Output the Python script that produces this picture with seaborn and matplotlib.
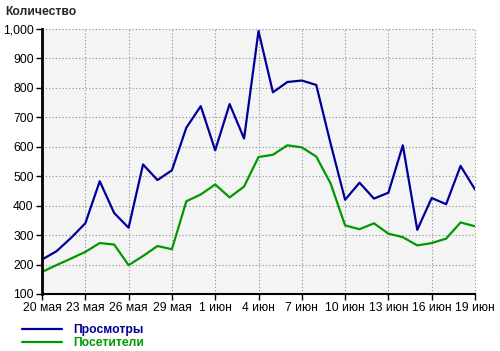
import matplotlib
matplotlib.use("Agg")
import matplotlib.pyplot as plt
import seaborn as sns
import pandas as pd

dates = pd.date_range("2013-05-20", periods=31, freq="D")
views = [217, 245, 290, 340, 483, 375, 325, 540, 487, 520, 665, 738, 588, 745, 628,
         993, 785, 820, 825, 810, 610, 420, 478, 424, 444, 605, 318, 426, 405, 535, 455]
visitors = [175, 198, 220, 243, 273, 268, 198, 229, 263, 252, 415, 438, 472, 428, 465,
            565, 573, 605, 598, 567, 475, 333, 320, 340, 305, 293, 265, 273, 288, 343, 330]
series_names = ["Просмотры", "Посетители"]
series_colors = ["#000099", "#009900"]
tick_labels = ["20 мая", "23 мая", "26 мая", "29 мая", "1 июн", "4 июн",
               "7 июн", "10 июн", "13 июн", "16 июн", "19 июн"]
y_ticks = [100, 200, 300, 400, 500, 600, 700, 800, 900, 1000]
y_title = "Количество"

df = pd.DataFrame({
    "date": list(dates) * 2,
    "value": views + visitors,
    "series": [series_names[0]] * len(views) + [series_names[1]] * len(visitors),
})

sns.set_style("white")
plt.rcParams["font.family"] = ["Liberation Sans", "DejaVu Sans"]

fig = plt.figure(figsize=(5.0, 3.51), dpi=100)
ax = fig.add_axes([42 / 500, 1 - 294 / 351, (475 - 42) / 500, (294 - 29) / 351])
ax.set_facecolor("#f4f4f4")

sns.lineplot(data=df, x="date", y="value", hue="series", palette=series_colors,
             hue_order=series_names, linewidth=1.6, ax=ax, legend=False)

tick_dates = dates[::3]
ax.set_xticks(tick_dates)
ax.set_xticklabels(tick_labels)
ax.set_xlim(dates[0], dates[-1])
ax.set_ylim(100, 1000)
ax.set_yticks(y_ticks)
ax.set_yticklabels([f"{v:,}" for v in y_ticks])
ax.set_xlabel("")
ax.set_ylabel("")

ax.grid(True, color="#8c8c8c", linestyle=(0, (1, 2)), linewidth=0.8)
for gl in ax.get_xgridlines() + ax.get_ygridlines():
    gl.set_clip_on(False)
ax.set_axisbelow(True)
for s in ["top", "right"]:
    ax.spines[s].set_visible(False)
ax.spines["left"].set_color("black")
ax.spines["left"].set_linewidth(2)
ax.spines["bottom"].set_color("black")
ax.spines["bottom"].set_linewidth(1.5)
ax.tick_params(axis="both", direction="out", length=4, width=1, color="black",
               labelsize=8.7, labelcolor="black", pad=2, left=True, bottom=True)

fig.text(5 / 500, 1 - 12 / 351, y_title, fontsize=8.7, fontweight="bold",
         va="center", ha="left")

handles = [plt.Line2D([], [], color=c, linewidth=1.6) for c in series_colors]
leg = fig.legend(handles, series_names, loc="upper left",
                 bbox_to_anchor=(16 / 500, 1 - 318 / 351), frameon=False,
                 fontsize=8.7, handlelength=3.3, handletextpad=0.9,
                 labelspacing=0.1, borderpad=0)
for t, c in zip(leg.get_texts(), series_colors):
    t.set_color(c)
    t.set_fontweight("bold")

fig.savefig("out.png", dpi=100)
